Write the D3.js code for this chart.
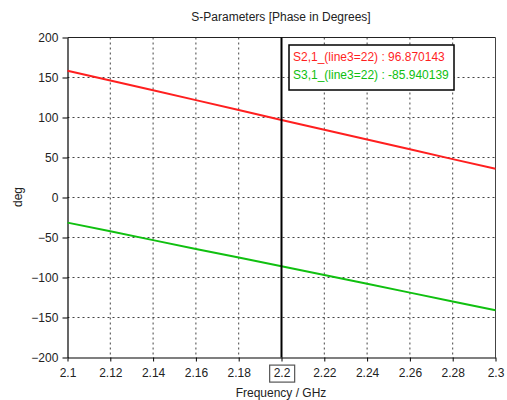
<!DOCTYPE html>
<html><head><meta charset="utf-8">
<script src="https://cdn.jsdelivr.net/npm/d3@7"></script>
<style>body{margin:0;background:#fff}svg{display:block}text{font-family:"Liberation Sans",Arial,sans-serif}</style>
</head><body>
<svg id="c" width="507" height="400"></svg>
<script>
const freqs = [2.1, 2.12, 2.14, 2.16, 2.18, 2.2, 2.22, 2.24, 2.26, 2.28, 2.3];
const s21 = [158.5, 146.3, 134.0, 121.7, 109.3, 96.870143, 84.6, 72.4, 60.2, 48.0, 35.9];
const s31 = [-31.4, -42.3, -53.3, -64.3, -75.1, -85.940139, -96.9, -107.9, -118.9, -130.0, -141.0];
const xTicks = [2.1, 2.12, 2.14, 2.16, 2.18, 2.2, 2.22, 2.24, 2.26, 2.28, 2.3];
const yTicks = [-200, -150, -100, -50, 0, 50, 100, 150, 200];
const markerFreq = 2.2;
const legendLabels = ["S2,1_(line3=22) : 96.870143", "S3,1_(line3=22) : -85.940139"];
const colors = ["#ff1f1f", "#10c010"];

const svg = d3.select("#c");
const L = 67.5, R = 495.5, T = 37.5, B = 357.5;
const x = d3.scaleLinear().domain([2.1, 2.3]).range([L, R]);
const y = d3.scaleLinear().domain([-200, 200]).range([B, T]);

// grid
const g = svg.append("g");
g.selectAll(".gx").data(xTicks.slice(1, -1)).enter().append("line")
  .attr("x1", d => x(d)).attr("x2", d => x(d)).attr("y1", T).attr("y2", B)
  .attr("stroke", "#444").attr("stroke-width", 1).attr("stroke-dasharray", "2,3");
g.selectAll(".gy").data(yTicks.slice(1, -1)).enter().append("line")
  .attr("x1", L).attr("x2", R).attr("y1", d => y(d)).attr("y2", d => y(d))
  .attr("stroke", "#444").attr("stroke-width", 1).attr("stroke-dasharray", "2,3");

// frame top/right
svg.append("line").attr("x1", L).attr("x2", R).attr("y1", T).attr("y2", T).attr("stroke", "#222");
svg.append("line").attr("x1", R).attr("x2", R).attr("y1", T).attr("y2", B).attr("stroke", "#444");

// axes
const xAxis = d3.axisBottom(x).tickValues(xTicks).tickFormat(d => String(+d.toFixed(2))).tickSize(4).tickSizeOuter(0);
const yAxis = d3.axisLeft(y).tickValues(yTicks).tickSize(5).tickSizeOuter(0);
const xa = svg.append("g").attr("transform", `translate(0,${B})`).call(xAxis);
const ya = svg.append("g").attr("transform", `translate(${L},0)`).call(yAxis);
[xa, ya].forEach(a => {
  a.select(".domain").attr("stroke", "#000").attr("stroke-width", 1.2);
  a.selectAll(".tick line").attr("stroke", "#000");
  a.selectAll("text").attr("font-size", 12).attr("fill", "#222").attr("font-family", '"Liberation Sans",Arial,sans-serif');
});
xa.selectAll("text").attr("dy", "1.05em");
ya.selectAll("text").attr("dx", "-0.1em");

// boxed marker tick label
const mt = xa.selectAll(".tick").filter(d => Math.abs(d - markerFreq) < 1e-9);
const bb = mt.select("text").node().getBBox();
mt.insert("rect", "text").attr("x", bb.x - 4).attr("y", bb.y - 1).attr("width", bb.width + 8).attr("height", bb.height + 3)
  .attr("fill", "none").attr("stroke", "#555").attr("stroke-width", 1.2);

// series
const line = d3.line().x(d => x(d[0])).y(d => y(d[1]));
[s21, s31].forEach((s, i) => {
  svg.append("path").datum(freqs.map((f, j) => [f, s[j]])).attr("d", line)
    .attr("fill", "none").attr("stroke", colors[i]).attr("stroke-width", 2);
});

// marker line
svg.append("line").attr("x1", x(markerFreq)).attr("x2", x(markerFreq)).attr("y1", T).attr("y2", B)
  .attr("stroke", "#000").attr("stroke-width", 2);

// legend box
const lg = svg.append("g");
lg.append("rect").attr("x", 289).attr("y", 45).attr("width", 165).attr("height", 45)
  .attr("fill", "#fff").attr("stroke", "#000").attr("stroke-width", 1.5);
legendLabels.forEach((t, i) => {
  lg.append("text").attr("x", 293).attr("y", 61 + i * 18).attr("font-size", 12).attr("fill", colors[i]).text(t);
});

// titles
svg.append("text").attr("x", 281).attr("y", 21).attr("text-anchor", "middle").attr("font-size", 12).attr("fill", "#222")
  .text("S-Parameters [Phase in Degrees]");
svg.append("text").attr("x", 281).attr("y", 397).attr("text-anchor", "middle").attr("font-size", 12).attr("fill", "#222")
  .text("Frequency / GHz");
svg.append("text").attr("transform", "translate(22,197) rotate(-90)").attr("text-anchor", "middle").attr("font-size", 12).attr("fill", "#222")
  .text("deg");
</script>
</body></html>
